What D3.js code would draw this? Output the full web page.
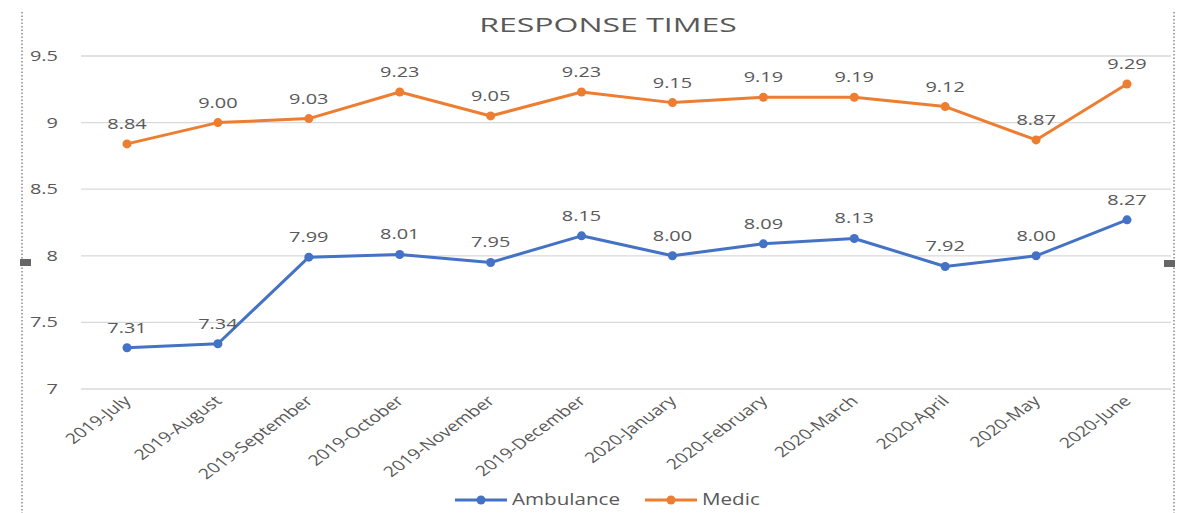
<!DOCTYPE html>
<html>
<head>
<meta charset="utf-8">
<script src="https://cdn.jsdelivr.net/npm/d3@7"></script>
<style>
  body { margin: 0; background: #fff; }
  text { font-family: "Open Sans", sans-serif; fill: #595959; }
</style>
</head>
<body>
<div id="draw-space"></div>
<script>
const months = ['2019-July', '2019-August', '2019-September', '2019-October', '2019-November',
                '2019-December', '2020-January', '2020-February', '2020-March', '2020-April',
                '2020-May', '2020-June'];
const ambulance = [7.31, 7.34, 7.99, 8.01, 7.95, 8.15, 8.00, 8.09, 8.13, 7.92, 8.00, 8.27];
const medic = [8.84, 9.00, 9.03, 9.23, 9.05, 9.23, 9.15, 9.19, 9.19, 9.12, 8.87, 9.29];
const yTicks = [7, 7.5, 8, 8.5, 9, 9.5];

const W = 1181, H = 513;
const SX = 1.33; // the reference is stretched sideways

const series = [
  { name: 'Ambulance', values: ambulance, color: '#4472C4' },
  { name: 'Medic', values: medic, color: '#ED7D31' }
];

const svg = d3.select('#draw-space').append('svg')
              .attr('width', W)
              .attr('height', H);

const xScale = d3.scalePoint()
                 .domain(months)
                 .range([127, 1127]);

const yScale = d3.scaleLinear()
                 .domain([7, 9.5])
                 .range([389, 56]);

// stretched text helper
function label(x, y, str, opts) {
  opts = opts || {};
  const sx = opts.sx || SX;
  const g = svg.append('g')
               .attr('transform', `translate(${x},${y}) scale(${sx},1)` + (opts.rotate ? ` rotate(${opts.rotate})` : ''));
  return g.append('text')
          .attr('text-anchor', opts.anchor || 'middle')
          .style('font-size', (opts.size || 14) + 'px')
          .text(str);
}

// dotted frame edges and selection handles
[22, 1174].forEach(x => {
  svg.append('line')
     .attr('x1', x).attr('x2', x)
     .attr('y1', 12).attr('y2', H)
     .attr('stroke', '#8a8a8a')
     .attr('stroke-width', 1.5)
     .attr('stroke-dasharray', '1.5,2');
});
svg.append('rect').attr('x', 20).attr('y', 259).attr('width', 11).attr('height', 7).attr('fill', '#666');
svg.append('rect').attr('x', 1164).attr('y', 260).attr('width', 11).attr('height', 7).attr('fill', '#666');

// gridlines
svg.selectAll('.grid')
   .data(yTicks)
   .enter()
   .append('line')
   .attr('class', 'grid')
   .attr('x1', 81)
   .attr('x2', 1171)
   .attr('y1', d => yScale(d))
   .attr('y2', d => yScale(d))
   .attr('stroke', '#d9d9d9')
   .attr('stroke-width', 1.3);

yTicks.forEach(t => {
  label(58, yScale(t) + 5, String(t), { anchor: 'end', size: 15 });
});

// title
label(608, 32, 'RESPONSE TIMES', { size: 20, sx: 1.6 });

// x labels
months.forEach(m => {
  label(xScale(m) + 5, 402, m, { anchor: 'end', size: 14.5, rotate: -44 });
});

const line = d3.line()
               .x((d, i) => xScale(months[i]))
               .y(d => yScale(d));

series.forEach(s => {
  svg.append('path')
     .attr('d', line(s.values))
     .attr('fill', 'none')
     .attr('stroke', s.color)
     .attr('stroke-width', 3)
     .attr('stroke-linejoin', 'round');

  svg.selectAll('.pt-' + s.name)
     .data(s.values)
     .enter()
     .append('circle')
     .attr('cx', (d, i) => xScale(months[i]))
     .attr('cy', d => yScale(d))
     .attr('r', 4.5)
     .attr('fill', s.color);

  s.values.forEach((v, i) => {
    label(xScale(months[i]), yScale(v) - 15, v.toFixed(2), { size: 15 });
  });
});

// legend
const legendX = [455, 645];
series.forEach((s, i) => {
  const x0 = legendX[i];
  svg.append('line')
     .attr('x1', x0).attr('x2', x0 + 52)
     .attr('y1', 500).attr('y2', 500)
     .attr('stroke', s.color)
     .attr('stroke-width', 3);
  svg.append('circle')
     .attr('cx', x0 + 26).attr('cy', 500).attr('r', 4.5)
     .attr('fill', s.color);
  label(x0 + 57, 505, s.name, { anchor: 'start', size: 15.5 });
});
</script>
</body>
</html>
